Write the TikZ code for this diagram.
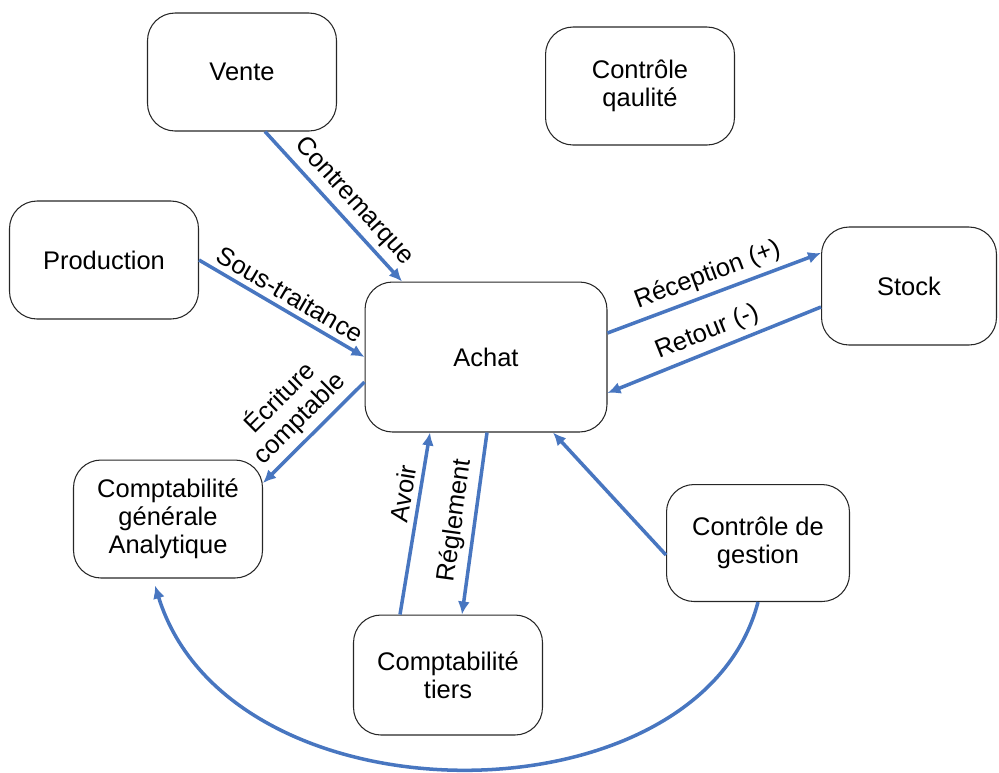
\documentclass[tikz,border=0pt]{standalone}
\usepackage{fontspec}
\setmainfont{Liberation Sans}
\usetikzlibrary{calc,arrows.meta}
\definecolor{fluxbleu}{RGB}{72,118,192}
\tikzset{
  bloc/.style={draw=black!85, line width=0.6pt, rounded corners=0.55cm, align=center,
    minimum width=3.78cm, minimum height=2.36cm},
  flux/.style={draw=fluxbleu, line width=2pt, -{Latex[length=2.6mm,width=2.4mm]}},
  etiq/.style={sloped, above, inner sep=3pt}
}

\begin{document}
\begin{tikzpicture}[x=0.02cm, y=-0.02cm, font=\fontsize{14.5pt}{16pt}\selectfont]
	%%%%% START %%%%%
	\useasboundingbox (0,0) rectangle (999,772);
	
	\node[bloc] (vente) at (242,72) {Vente};
	\node[bloc] (qualite) at (640,86) {Contrôle\\qaulité};
	\node[bloc] (prod) at (104,260) {Production};
	\node[bloc, minimum width=4.84cm, minimum height=3cm] (achat) at (486,357) {Achat};
	\node[bloc, minimum width=3.5cm] (stock) at (909,286) {Stock};
	\node[bloc] (cg) at (168,519) {Comptabilité\\générale\\Analytique};
	\node[bloc, minimum width=3.66cm, minimum height=2.34cm] (gestion) at (758,543) {Contrôle de\\gestion};
	\node[bloc, minimum height=2.4cm] (tiers) at (448,675) {Comptabilité\\tiers};
	
	\draw[flux] ($(vente.south)+(23,0)$) -- node[etiq, pos=0.55] {Contremarque} ($(achat.north)+(-84,0)$);
	\draw[flux] (prod.east) -- node[etiq] {Sous-traitance} (achat.west);
	\draw[flux] ($(achat.west)+(0,25)$) -- node[etiq, align=center] {Écriture\\comptable} ($(cg.east)+(0,-36)$);
	
	\draw[flux] ($(achat.east)+(0,-24)$) -- node[etiq] {Réception (+)} ($(stock.west)+(0,-33)$);
	\draw[flux] ($(stock.west)+(0,21)$) -- node[etiq] {Retour (-)} ($(achat.east)+(0,36)$);
	
	\draw[flux] ($(tiers.north)+(-48,0)$) -- node[etiq, pos=0.65] {Avoir} ($(achat.south)+(-56,0)$);
	\draw[flux] ($(achat.south)+(1,0)$) -- node[etiq] {Réglement} ($(tiers.north)+(14,0)$);
	\draw[flux] ($(gestion.west)+(0,12)$) -- ($(achat.south)+(67,0)$);
	
	\draw[flux] (gestion.south) .. controls +(-58,224) and +(75,243) .. ($(cg.south)+(-13,7)$);
	%%%%% END %%%%%
\end{tikzpicture}
\end{document}
